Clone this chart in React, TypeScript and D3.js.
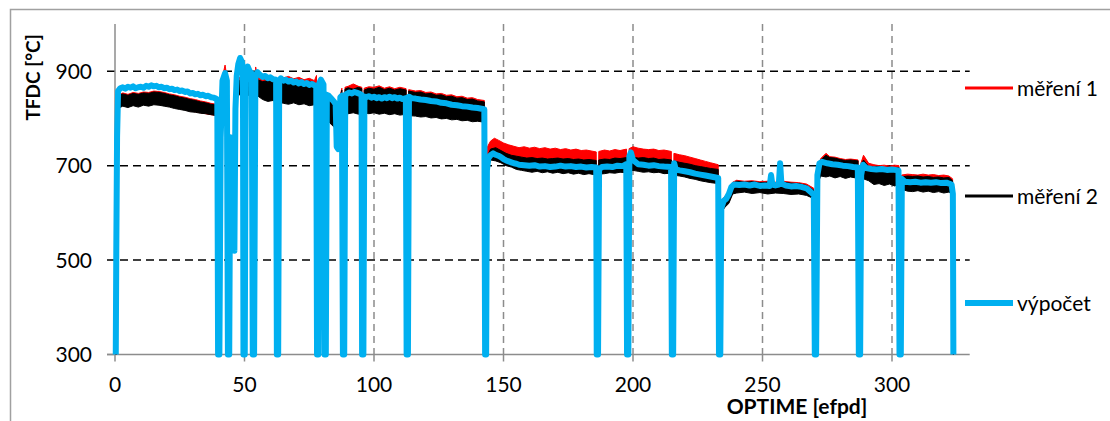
import * as d3 from "d3";

// efpd, teplota
type Pt = [number, number];
// efpd, horní okraj, dolní okraj (šum měření)
type Band = [number, number, number];

const xTicks = [0, 50, 100, 150, 200, 250, 300];
const yTicks = [300, 500, 700, 900];
const gridY = [500, 700, 900];

const legendLabels = ["měření 1", "měření 2", "výpočet"];

const vypocet: Pt[] = [
  [0.3, 300], [0.5, 520], [0.8, 760], [1.2, 858], [2, 864], [3, 866], [4, 863], [5, 867], [6, 865], [7, 868],
  [8, 864], [9, 866], [10, 867], [11, 865], [12, 869], [13, 867], [14, 870], [15, 868], [16, 869], [17, 866],
  [18, 867], [19, 864], [20, 865], [21, 862], [22, 863], [23, 860], [24, 861], [25, 858], [26, 859], [27, 856],
  [28, 857], [29, 853], [30, 854], [31, 851], [32, 852], [33, 849], [34, 850], [35, 847], [36, 848], [37, 845],
  [38, 844], [39, 842], [39.5, 840], [39.8, 300], [40.3, 300], [40.8, 760], [41.5, 880], [42.5, 896], [43.2, 880],
  [43.6, 300], [44.1, 300], [44.5, 760], [45, 735], [45.6, 600], [46.1, 520], [46.5, 820], [47, 890], [47.6, 915],
  [48.3, 928], [49, 920], [49.4, 900], [49.6, 300], [50.1, 300], [50.5, 900], [51.2, 910], [52, 900], [52.8, 895],
  [53.2, 300], [53.7, 300], [54.2, 890], [55, 898], [56, 892], [57, 888], [58, 890], [59, 885], [60, 887], [61, 883],
  [62.2, 882], [62.5, 300], [63, 300], [63.4, 878], [64, 885], [65, 880], [66, 882], [67, 878], [68, 880], [69, 876],
  [70, 878], [71, 874], [72, 877], [73, 873], [74, 875], [75, 871], [76, 873], [77, 870], [77.7, 868], [78, 300],
  [78.5, 300], [78.9, 875], [79.5, 882], [80.5, 872], [80.9, 300], [81.4, 300], [81.8, 850], [82.5, 848], [83.5, 842],
  [84.5, 836], [85.2, 830], [85.6, 740], [86.2, 735], [86.6, 760], [87, 845], [87.6, 848], [88, 300], [88.5, 300],
  [88.9, 850], [89.5, 852], [90.5, 855], [91.5, 853], [92.5, 856], [93.5, 854], [94.5, 852], [95.2, 850], [95.4, 300],
  [95.9, 300], [96.3, 846], [97, 845], [98, 847], [99, 844], [100, 846], [101, 843], [102, 845], [103, 842], [104, 845],
  [105, 843], [106, 846], [107, 843], [108, 845], [109, 842], [110, 844], [111, 841], [112.3, 843], [112.6, 300],
  [113.1, 300], [113.5, 846], [114.5, 843], [116, 842], [118, 840], [120, 839], [122, 837], [124, 836], [126, 833],
  [128, 832], [130, 829], [132, 828], [134, 826], [136, 825], [138, 823], [140, 822], [142, 820], [142.6, 819],
  [142.9, 300], [143.3, 300], [143.6, 690], [144.1, 715], [145, 722], [146, 726], [147, 723], [148, 721], [149, 718],
  [150, 714], [151, 711], [152, 709], [153, 707], [154, 705], [155, 704], [156, 702], [158, 701], [160, 700], [162, 701],
  [164, 698], [166, 699], [168, 697], [170, 698], [172, 700], [174, 698], [176, 699], [178, 697], [180, 698], [182, 696],
  [184, 697], [185.8, 696], [186, 300], [186.5, 300], [186.9, 692], [188, 697], [190, 698], [192, 697], [194, 700],
  [196, 699], [197.4, 703], [197.7, 300], [198.2, 300], [198.6, 720], [199.2, 728], [200, 712], [202, 703], [204, 702],
  [206, 700], [208, 701], [210, 699], [212, 698], [214.7, 697], [215, 300], [215.5, 300], [215.9, 705], [216.5, 692],
  [218, 690], [220, 688], [222, 686], [224, 683], [226, 681], [228, 679], [230, 677], [232, 675], [232.9, 674],
  [233.2, 300], [233.7, 300], [234.1, 610], [235, 625], [236, 630], [237, 640], [238, 655], [239, 660], [241, 659],
  [243, 660], [245, 658], [247, 660], [249, 657], [251, 658], [252.8, 657], [253.3, 680], [253.8, 660], [255, 658],
  [256.3, 660], [256.8, 705], [257.3, 662], [259, 658], [261, 656], [263, 657], [265, 655], [267, 652], [268.5, 645],
  [269.8, 638], [270.2, 300], [270.7, 300], [271.2, 680], [272, 705], [273, 708], [275, 705], [277, 703], [279, 702],
  [281, 700], [283, 699], [285, 697], [286.8, 696], [287.2, 300], [287.7, 300], [288.1, 680], [288.8, 702], [290, 695],
  [292, 693], [294, 692], [296, 693], [298, 691], [300, 692], [302.5, 690], [302.9, 300], [303.4, 300], [303.8, 672],
  [305, 666], [307, 665], [309, 666], [311, 664], [313, 665], [315, 664], [317, 665], [319, 663], [321, 664], [323, 660],
  [323.5, 640], [323.7, 300],
];

const mereni1: Band[] = [
  [0.4, 300, 300], [0.9, 832, 700], [1.5, 850, 830], [3, 854, 830], [5, 851, 828], [7, 855, 830], [9, 853, 828],
  [11, 856, 830], [13, 855, 829], [15, 858, 832], [17, 857, 831], [19, 855, 829], [21, 852, 826], [23, 850, 824],
  [25, 847, 821], [27, 845, 819], [29, 842, 816], [31, 840, 814], [33, 837, 812], [35, 835, 810], [37, 832, 808],
  [39.3, 830, 806], [39.8, 300, 300], [40.8, 870, 840], [42.5, 913, 870], [43.4, 880, 850], [43.6, 300, 300],
  [44.5, 760, 735], [45.5, 745, 720], [46.2, 825, 795], [47.5, 885, 855], [49.4, 890, 860], [49.6, 300, 300],
  [50.5, 895, 860], [52.5, 905, 870], [53, 888, 858], [53.2, 300, 300], [54.3, 909, 870], [55, 890, 860],
  [57, 884, 850], [59, 886, 850], [61, 882, 848], [62.3, 884, 850], [62.5, 300, 300], [63.3, 882, 848], [65, 886, 850],
  [67, 889, 852], [69, 884, 850], [71, 887, 851], [73, 882, 848], [75, 885, 850], [77, 880, 846], [77.8, 891, 850],
  [78, 300, 300], [78.8, 884, 850], [80.5, 875, 845], [80.9, 300, 300], [81.6, 845, 810], [83, 838, 800],
  [84.5, 830, 795], [85.5, 822, 790], [86.5, 838, 800], [87.6, 864, 830], [88, 300, 300], [88.8, 866, 830],
  [90, 868, 832], [92, 873, 835], [94, 868, 832], [95.3, 866, 830], [95.4, 300, 300], [96.2, 864, 830], [98, 867, 830],
  [100, 866, 830], [102, 869, 832], [104, 864, 828], [106, 867, 830], [108, 863, 828], [110, 866, 830],
  [112.4, 863, 828], [112.6, 300, 300], [113.4, 861, 826], [116, 858, 824], [118, 859, 824], [120, 855, 820],
  [122, 856, 821], [124, 852, 818], [126, 853, 818], [128, 849, 815], [130, 850, 815], [132, 846, 812], [134, 847, 812],
  [136, 843, 810], [138, 844, 810], [140, 840, 806], [142.6, 838, 805], [142.9, 300, 300], [143.4, 300, 300],
  [143.8, 740, 700], [145, 752, 722], [146.5, 758, 728], [148, 754, 728], [150, 748, 722], [152, 744, 718],
  [154, 741, 716], [156, 738, 714], [158, 740, 714], [160, 737, 712], [162, 739, 714], [164, 736, 711], [166, 738, 713],
  [168, 735, 710], [170, 737, 712], [172, 734, 709], [174, 736, 711], [176, 733, 708], [178, 735, 710], [180, 732, 707],
  [182, 733, 708], [185.8, 729, 705], [186, 300, 300], [186.8, 730, 706], [189, 733, 708], [191, 731, 707],
  [193, 734, 709], [195, 732, 708], [197.5, 735, 710], [197.7, 300, 300], [198.5, 736, 712], [200, 740, 714],
  [202, 737, 712], [204, 735, 710], [206, 734, 710], [208, 735, 709], [210, 732, 708], [212, 733, 707],
  [214.8, 730, 706], [215, 300, 300], [215.8, 726, 702], [218, 723, 699], [220, 721, 697], [222, 718, 694],
  [224, 715, 691], [226, 712, 688], [228, 709, 686], [230, 706, 683], [232.9, 702, 680], [233.2, 300, 300],
  [234, 625, 605], [235.5, 635, 615], [237, 645, 625], [238.5, 665, 645], [240, 669, 648], [243, 667, 646],
  [246, 668, 647], [249, 666, 645], [252, 667, 646], [255, 665, 644], [258, 667, 646], [261, 665, 644], [264, 664, 643],
  [267, 661, 640], [269.8, 652, 632], [270.2, 300, 300], [271.2, 695, 665], [272.5, 715, 685], [274.5, 726, 700],
  [276, 719, 695], [278, 718, 694], [280, 715, 692], [282, 713, 690], [284, 714, 690], [286.9, 712, 688],
  [287.2, 300, 300], [288, 705, 680], [289, 722, 690], [291, 705, 680], [293, 702, 677], [295, 700, 676],
  [297, 701, 676], [299, 699, 675], [301, 701, 676], [302.7, 700, 676], [302.9, 300, 300], [303.7, 680, 655],
  [306, 682, 657], [308, 681, 656], [310, 680, 655], [312, 682, 657], [314, 680, 655], [316, 681, 656], [318, 679, 654],
  [320, 680, 655], [322, 678, 653], [323.4, 672, 650], [323.7, 300, 300],
];

const mereni2: Band[] = [
  [0.4, 300, 300], [0.9, 830, 700], [1.5, 848, 822], [3, 852, 826], [5, 849, 823], [7, 853, 827], [9, 851, 824],
  [11, 854, 828], [13, 853, 826], [15, 856, 829], [17, 855, 828], [19, 853, 826], [21, 850, 824], [23, 848, 821],
  [25, 845, 819], [27, 843, 817], [29, 840, 814], [31, 838, 813], [33, 835, 811], [35, 833, 810], [37, 830, 808],
  [39.3, 828, 806], [39.8, 300, 300], [40.8, 860, 830], [42.5, 880, 850], [43.4, 870, 840], [43.6, 300, 300],
  [44.5, 760, 735], [45.5, 740, 720], [46.2, 820, 790], [47.5, 880, 850], [49.4, 880, 850], [49.6, 300, 300],
  [50.5, 880, 850], [53, 878, 848], [53.2, 300, 300], [54.3, 880, 846], [55, 882, 848], [57, 878, 840],
  [59, 880, 836], [61, 876, 838], [62.3, 878, 835], [62.5, 300, 300], [63.3, 876, 835], [65, 880, 832], [67, 884, 830],
  [69, 878, 833], [71, 881, 829], [73, 876, 831], [75, 879, 827], [77, 875, 829], [77.8, 872, 828], [78, 300, 300],
  [78.8, 880, 840], [80.5, 870, 830], [80.9, 300, 300], [81.6, 840, 800], [83, 835, 790], [84.5, 828, 782],
  [85.5, 820, 785], [86.5, 835, 795], [87.6, 860, 815], [88, 300, 300], [88.8, 862, 815], [90, 865, 810],
  [92, 862, 812], [94, 866, 809], [95.3, 863, 811], [95.4, 300, 300], [96.2, 860, 812], [98, 864, 810], [100, 862, 812],
  [102, 866, 809], [104, 861, 811], [106, 864, 808], [108, 860, 810], [110, 863, 807], [112.4, 860, 809],
  [112.6, 300, 300], [113.4, 858, 806], [116, 855, 805], [118, 856, 803], [120, 852, 804], [122, 853, 801],
  [124, 849, 802], [126, 850, 799], [128, 846, 800], [130, 847, 797], [132, 843, 798], [134, 844, 795], [136, 840, 796],
  [138, 841, 793], [140, 837, 794], [142.6, 835, 792], [142.9, 300, 300], [143.4, 300, 300], [143.8, 720, 690],
  [145, 735, 712], [147, 738, 710], [149, 732, 706], [151, 726, 700], [153, 722, 697], [155, 720, 692], [157, 718, 690],
  [159, 716, 688], [161, 717, 686], [163, 715, 688], [165, 716, 685], [167, 714, 687], [169, 715, 684], [171, 716, 686],
  [173, 714, 683], [175, 715, 685], [177, 713, 682], [179, 714, 684], [181, 712, 681], [183, 713, 683],
  [185.8, 711, 680], [186, 300, 300], [186.8, 712, 682], [189, 714, 683], [191, 713, 685], [193, 716, 684],
  [195, 715, 686], [197.5, 717, 685], [197.7, 300, 300], [198.5, 720, 688], [200, 718, 690], [202, 716, 688],
  [204, 717, 686], [206, 715, 687], [208, 716, 685], [210, 713, 686], [212, 714, 683], [214.8, 712, 684],
  [215, 300, 300], [215.8, 710, 680], [218, 707, 678], [220, 705, 676], [222, 703, 673], [224, 700, 671],
  [226, 698, 668], [228, 696, 666], [230, 694, 664], [232.9, 692, 662], [233.2, 300, 300], [234, 620, 600],
  [235.5, 632, 612], [237, 640, 620], [238.5, 662, 640], [240, 667, 642], [243, 665, 644], [246, 666, 641],
  [249, 664, 643], [252, 665, 640], [255, 663, 642], [258, 665, 641], [261, 663, 639], [264, 662, 640], [267, 658, 637],
  [269.8, 648, 630], [270.2, 300, 300], [271.2, 690, 660], [272.5, 712, 678], [274.5, 722, 676], [276, 717, 678],
  [278, 716, 674], [280, 713, 677], [282, 711, 673], [284, 712, 676], [286.9, 710, 673], [287.2, 300, 300],
  [288, 700, 672], [289, 712, 672], [291, 698, 668], [293, 697, 660], [295, 698, 662], [297, 696, 658], [299, 697, 661],
  [301, 695, 657], [302.7, 696, 660], [302.9, 300, 300], [303.7, 676, 650], [306, 678, 646], [308, 677, 645],
  [310, 678, 647], [312, 676, 644], [314, 677, 646], [316, 675, 643], [318, 676, 645], [320, 674, 642],
  [322, 675, 644], [323.4, 668, 640], [323.7, 300, 300],
];

const FONT = "Lato, 'Open Sans', 'Liberation Sans', sans-serif";

export default function App() {
  const x = d3.scaleLinear([0, 330], [115, 969.7]);
  const y = d3.scaleLinear([300, 1000], [354.5, 24]);

  const band = d3
    .area<Band>()
    .x((d) => x(d[0]))
    .y0((d) => y(d[2]))
    .y1((d) => y(d[1]));
  const line = d3
    .line<Pt>()
    .x((d) => x(d[0]))
    .y((d) => y(d[1]));

  const [x0, x1] = x.range();
  const [yb, yt] = y.range();

  const legend = [
    { label: legendLabels[0], color: "#ff0000", width: 3, cy: 88 },
    { label: legendLabels[1], color: "#000000", width: 3, cy: 196 },
    { label: legendLabels[2], color: "#00b0f0", width: 6, cy: 303 },
  ];

  return (
    <svg
      width={1110}
      height={421}
      style={{ position: "absolute", left: 0, top: 0, background: "#fff" }}
      fontFamily={FONT}
    >
      <rect x={10.5} y={9.5} width={1200} height={500} fill="#fff" stroke="#a0a0a0" strokeWidth={1.5} />

      {/* mřížka */}
      {xTicks.filter((t) => t > 0).map((t) => (
        <line key={"gx" + t} x1={x(t)} x2={x(t)} y1={yt} y2={yb} stroke="#8c8c8c" strokeWidth={1.5} strokeDasharray="7,5" />
      ))}
      {gridY.map((t) => (
        <line key={"gy" + t} x1={x0 - 8} x2={x1} y1={y(t)} y2={y(t)} stroke="#000" strokeWidth={1.5} strokeDasharray="8,5" />
      ))}

      {/* osy */}
      <line x1={x0} x2={x0} y1={yt} y2={yb} stroke="#8c8c8c" strokeWidth={1.5} />
      <line x1={x0 - 8} x2={x1} y1={yb} y2={yb} stroke="#8c8c8c" strokeWidth={1.5} />
      {yTicks.filter((t) => !gridY.includes(t)).map((t) => (
        <line key={"ty" + t} x1={x0 - 8} x2={x0} y1={y(t)} y2={y(t)} stroke="#8c8c8c" strokeWidth={1.5} />
      ))}
      {xTicks.map((t) => (
        <line key={"tx" + t} x1={x(t)} x2={x(t)} y1={yb} y2={yb + 7} stroke="#8c8c8c" strokeWidth={1.5} />
      ))}

      {/* data */}
      <path d={band(mereni1) ?? ""} fill="#ff0000" stroke="#ff0000" strokeWidth={1} />
      <path d={band(mereni2) ?? ""} fill="#000" stroke="#000" strokeWidth={1} />
      <path d={line(vypocet) ?? ""} fill="none" stroke="#00b0f0" strokeWidth={6} strokeLinejoin="round" />

      {/* popisky */}
      {yTicks.map((t) => (
        <text key={"ly" + t} x={92} y={y(t) + 7.5} textAnchor="end" fontSize={21} fill="#000">
          {t}
        </text>
      ))}
      {xTicks.map((t) => (
        <text key={"lx" + t} x={x(t)} y={392} textAnchor="middle" fontSize={21} fill="#000">
          {t}
        </text>
      ))}
      <text x={797} y={414} textAnchor="middle" fontSize={21} fontWeight="bold" fill="#000">
        OPTIME [efpd]
      </text>
      <text
        transform={`translate(40,${(32 + 123) / 2}) rotate(-90)`}
        textAnchor="middle"
        fontSize={19}
        fontWeight="bold"
        fill="#000"
      >
        TFDC [°C]
      </text>

      {legend.map((l) => (
        <g key={l.label}>
          <line x1={965} x2={1013} y1={l.cy} y2={l.cy} stroke={l.color} strokeWidth={l.width} />
          <text x={1017} y={l.cy + 7.5} fontSize={21} fill="#000">
            {l.label}
          </text>
        </g>
      ))}
    </svg>
  );
}
